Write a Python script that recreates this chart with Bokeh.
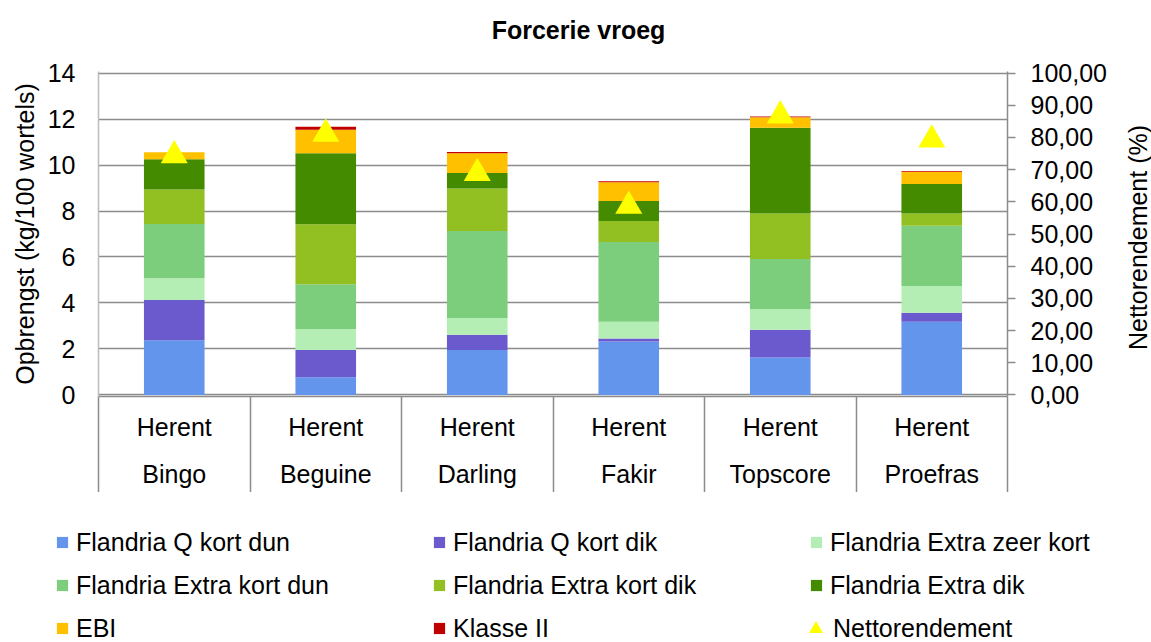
import numpy as np
from bokeh.plotting import figure
from bokeh.layouts import column, row
from bokeh.models import (ColumnDataSource, Range1d, LinearAxis, FixedTicker, Grid,
                          Legend, LegendItem)
from bokeh.core.properties import value
from bokeh.embed import file_html
from bokeh.resources import INLINE

# ---------------- data ----------------
categories = ["Bingo", "Beguine", "Darling", "Fakir", "Topscore", "Proefras"]
location = ["Herent", "Herent", "Herent", "Herent", "Herent", "Herent"]

q_kort_dun = [2.38, 0.77, 1.95, 2.32, 1.63, 3.18]
q_kort_dik = [1.75, 1.18, 0.67, 0.13, 1.20, 0.39]
extra_zeer_kort = [0.95, 0.92, 0.72, 0.73, 0.90, 1.17]
extra_kort_dun = [2.36, 1.94, 3.79, 3.47, 2.18, 2.62]
extra_kort_dik = [1.50, 2.61, 1.85, 0.92, 1.98, 0.53]
extra_dik = [1.31, 3.09, 0.67, 0.87, 3.73, 1.28]
ebi = [0.31, 1.03, 0.86, 0.81, 0.46, 0.54]
klasse_ii = [0.00, 0.13, 0.06, 0.04, 0.03, 0.03]
nettorendement = [75.6, 82.3, 70.1, 59.9, 88.0, 80.5]

series_names = ["Flandria Q kort dun", "Flandria Q kort dik", "Flandria Extra zeer kort",
                "Flandria Extra kort dun", "Flandria Extra kort dik", "Flandria Extra dik",
                "EBI", "Klasse II"]
series_values = [q_kort_dun, q_kort_dik, extra_zeer_kort, extra_kort_dun,
                 extra_kort_dik, extra_dik, ebi, klasse_ii]
series_colors = ["#6495ED", "#6A5ACD", "#B4EEB4", "#7CCD7C", "#92C023", "#458B00",
                 "#FFC000", "#C00000"]
netto_name = "Nettorendement"
netto_color = "#FFFF00"

left_ticks = [0, 2, 4, 6, 8, 10, 12, 14]
right_ticks = [0, 10, 20, 30, 40, 50, 60, 70, 80, 90, 100]
right_labels = ["0,00", "10,00", "20,00", "30,00", "40,00", "50,00", "60,00",
                "70,00", "80,00", "90,00", "100,00"]

title_text = "Forcerie vroeg"
left_title = "Opbrengst (kg/100 wortels)"
right_title = "Nettorendement (%)"

# ---------------- styling / layout ----------------
FONT = "Liberation Sans"
FS = "25px"
GRID_COL = "#8c8c8c"
PAD = 0.07
y_max = 14.0
pct_max = 100.0

W, H = 1151, 642
TITLE_H = 48
LEGEND_H = 150
RIGHT_W = 31
MAIN_W = W - RIGHT_W
MAIN_H = H - TITLE_H - LEGEND_H

n = len(categories)
xs = list(range(1, n + 1))
boundaries = [i + 0.5 for i in range(0, n + 1)]

src = {"x": xs}
for name, vals in zip(series_names, series_values):
    src[name] = vals
src[netto_name] = nettorendement
source = ColumnDataSource(src)


def strip(width, height):
    f = figure(width=width, height=height, output_backend="svg", toolbar_location=None,
               x_range=Range1d(0, width), y_range=Range1d(0, height),
               x_axis_type=None, y_axis_type=None, min_border=0)
    f.outline_line_color = None
    f.background_fill_color = "white"
    f.border_fill_color = "white"
    f.frame_align = False
    return f


# ---------------- title strip ----------------
pt = strip(W, TITLE_H)
pt.text(x=[578], y=[TITLE_H - 29], text=[title_text], text_font=value(FONT),
        text_font_size=FS, text_font_style="bold", text_align="center",
        text_baseline="middle", text_color="black")

# ---------------- main chart ----------------
p = figure(width=MAIN_W, height=MAIN_H, output_backend="svg", toolbar_location=None,
           x_range=Range1d(0.5, n + 0.5), y_range=Range1d(-PAD, y_max + PAD),
           x_axis_type=None, y_axis_type=None,
           min_border_left=98, min_border_right=MAIN_W - 1007,
           min_border_top=71 - TITLE_H, min_border_bottom=96)
p.outline_line_color = None
p.background_fill_color = "white"
p.border_fill_color = "white"
p.frame_align = False

pad_pct = PAD * pct_max / y_max
p.extra_y_ranges = {"pct": Range1d(-pad_pct, pct_max + pad_pct),
                    "pct_m": Range1d(-pad_pct + 1.21, pct_max + pad_pct + 1.21)}

# grid lines
p.add_layout(Grid(dimension=1, ticker=FixedTicker(ticks=left_ticks),
                  grid_line_color=GRID_COL, grid_line_width=1.5))

# left axis
yl = LinearAxis(ticker=FixedTicker(ticks=left_ticks), axis_label=left_title)
yl.axis_line_color = "#bdbdbd"
yl.axis_line_width = 1.5
yl.major_tick_out = 0
yl.major_tick_in = 0
yl.minor_tick_out = 0
yl.minor_tick_in = 0
yl.major_label_standoff = 23
yl.major_label_text_font = FONT
yl.major_label_text_font_size = FS
yl.major_label_text_color = "black"
yl.axis_label_standoff = 6
yl.axis_label_text_font = FONT
yl.axis_label_text_font_size = FS
yl.axis_label_text_font_style = "normal"
yl.axis_label_text_color = "black"
p.add_layout(yl, "left")

# right axis (its title sits in the narrow strip to the right)
yr = LinearAxis(y_range_name="pct", ticker=FixedTicker(ticks=right_ticks))
yr.major_label_overrides = {float(t): lab for t, lab in zip(right_ticks, right_labels)}
yr.axis_line_color = GRID_COL
yr.axis_line_width = 1.5
yr.major_tick_line_color = GRID_COL
yr.major_tick_line_width = 1.5
yr.major_tick_out = 8
yr.major_tick_in = 0
yr.minor_tick_out = 0
yr.minor_tick_in = 0
yr.major_label_standoff = 15
yr.major_label_text_font = FONT
yr.major_label_text_font_size = FS
yr.major_label_text_color = "black"
p.add_layout(yr, "right")

# category axis: two-level labels, separators as minor ticks on the group boundaries
xa = LinearAxis(ticker=FixedTicker(ticks=xs, minor_ticks=boundaries))
xa.major_label_overrides = {float(x): f"{loc}\n{cat}" for x, loc, cat in zip(xs, location, categories)}
xa.axis_line_color = GRID_COL
xa.axis_line_width = 1.5
xa.major_tick_out = 0
xa.major_tick_in = 0
xa.minor_tick_out = 96
xa.minor_tick_in = 0
xa.minor_tick_line_color = GRID_COL
xa.minor_tick_line_width = 1.5
xa.major_label_standoff = -80
xa.major_label_text_font = FONT
xa.major_label_text_font_size = FS
xa.major_label_text_color = "black"
xa.major_label_text_line_height = 1.69
p.add_layout(xa, "below")

# stacked bars
bars = p.vbar_stack(series_names, x="x", width=0.4, source=source,
                    color=series_colors, line_color=None)

# nettorendement triangles
tri = p.scatter(x="x", y=netto_name, source=source, y_range_name="pct_m",
                marker="triangle", size=27, fill_color=netto_color, line_color=None)

# ---------------- right axis title strip ----------------
pr = strip(RIGHT_W, MAIN_H)
pr.text(x=[17], y=[MAIN_H - (237 - TITLE_H)], text=[right_title], text_font=value(FONT),
        text_font_size=FS, text_align="center", text_baseline="middle",
        angle=np.pi / 2, text_color="black")

# ---------------- legend strip ----------------
pl = strip(W, LEGEND_H)
# legend swatches are taken from the same series, drawn far outside the strip's view
pl.x_range = Range1d(1000, 1001)
pl.y_range = Range1d(1000, 1001)
sw_bars = pl.vbar_stack(series_names, x="x", width=0.4, source=source,
                        color=series_colors, line_color=None)
sw_tri = pl.scatter(x="x", y=netto_name, source=source, marker="triangle", size=14,
                    fill_color=netto_color, line_color=None)

leg1 = Legend(items=[LegendItem(label=nm, renderers=[r]) for nm, r in zip(series_names, sw_bars)],
              location=(55, -7.5), orientation="horizontal", ncols=3,
              glyph_width=14, glyph_height=14, label_standoff=7,
              label_width=356, label_height=43, spacing=0, padding=0, margin=0,
              label_text_font=FONT, label_text_font_size=FS, label_text_color="black",
              border_line_color=None, background_fill_alpha=0)
pl.add_layout(leg1, "center")

leg2 = Legend(items=[LegendItem(label=netto_name, renderers=[sw_tri])],
              location=(798, -3.5), orientation="horizontal",
              glyph_width=35, glyph_height=35, label_standoff=-4,
              label_height=35, spacing=0, padding=0, margin=0,
              label_text_font=FONT, label_text_font_size=FS, label_text_color="black",
              border_line_color=None, background_fill_alpha=0)
pl.add_layout(leg2, "center")

layout = column(pt, row(p, pr, spacing=0), pl, spacing=0)
open("out.html", "w").write(file_html(layout, INLINE))
